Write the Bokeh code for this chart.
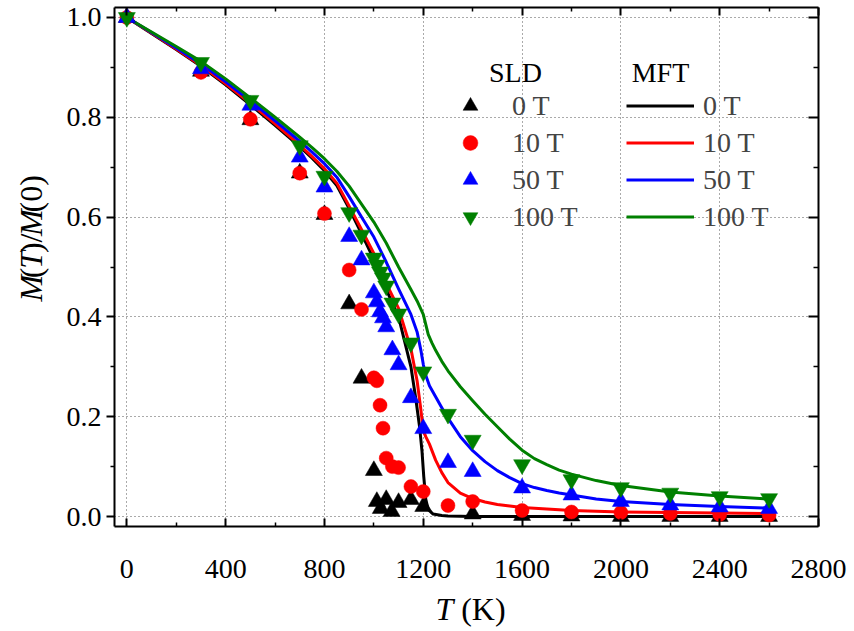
from bokeh.plotting import figure
from bokeh.layouts import row, column
from bokeh.models import (Range1d, FixedTicker, LinearAxis, Legend, LegendItem,
                          Label, PrintfTickFormatter, CustomJSTickFormatter)
from bokeh.embed import file_html
from bokeh.resources import INLINE
from math import pi

# ---- spin-lattice dynamics (SLD): temperature (K) and M(T)/M(0) ----
sld_t_0T = [0, 300, 500, 700, 800, 900, 950, 1000, 1012, 1028, 1050, 1072, 1100, 1150, 1200,
            1400, 1600, 1800, 2000, 2200, 2400, 2600]
sld_m_0T = [1.0, 0.892, 0.795, 0.688, 0.605, 0.426, 0.277, 0.092, 0.030, 0.016, 0.034, 0.010,
            0.028, 0.034, 0.020, 0.005, 0.002, 0.001, 0.0, 0.0, 0.0, 0.0]

sld_t_10T = [0, 300, 500, 700, 800, 900, 950, 1000, 1012, 1025, 1037, 1050, 1075, 1100, 1150,
             1200, 1300, 1400, 1600, 1800, 2000, 2200, 2400, 2600]
sld_m_10T = [1.0, 0.890, 0.796, 0.688, 0.607, 0.494, 0.415, 0.278, 0.272, 0.223, 0.177, 0.117,
             0.100, 0.098, 0.060, 0.050, 0.022, 0.030, 0.012, 0.009, 0.008, 0.006, 0.004, 0.003]

sld_t_50T = [0, 300, 500, 700, 800, 900, 950, 1000, 1012, 1025, 1037, 1050, 1075, 1100, 1150,
             1200, 1300, 1400, 1600, 1800, 2000, 2200, 2400, 2600]
sld_m_50T = [1.0, 0.897, 0.824, 0.720, 0.660, 0.561, 0.514, 0.448, 0.430, 0.410, 0.398, 0.380,
             0.334, 0.304, 0.238, 0.176, 0.108, 0.090, 0.057, 0.043, 0.030, 0.023, 0.019, 0.016]

sld_t_100T = [0, 300, 500, 700, 800, 900, 950, 1000, 1012, 1025, 1037, 1050, 1075, 1100, 1150,
              1200, 1300, 1400, 1600, 1800, 2000, 2200, 2400, 2600]
sld_m_100T = [1.0, 0.910, 0.834, 0.743, 0.682, 0.609, 0.564, 0.518, 0.504, 0.490, 0.478, 0.462,
              0.428, 0.406, 0.348, 0.290, 0.205, 0.153, 0.104, 0.074, 0.058, 0.047, 0.040, 0.036]

# ---- mean-field theory (MFT) curves ----
mft_t_0T = [0, 100, 200, 300, 400, 500, 600, 700, 750, 800, 850, 900, 950, 1000, 1050, 1100,
            1125, 1150, 1170, 1185, 1195, 1202, 1210, 1220, 1240, 1275, 1300, 1400, 1600, 2000,
            2600]
mft_m_0T = [1.0, 0.968, 0.936, 0.902, 0.865, 0.825, 0.784, 0.741, 0.718, 0.693, 0.663, 0.617,
            0.567, 0.515, 0.455, 0.400, 0.350, 0.300, 0.235, 0.180, 0.130, 0.080, 0.035, 0.014,
            0.005, 0.002, 0.001, 0.0, 0.0, 0.0, 0.0]

mft_t_10T = [0, 100, 200, 300, 400, 500, 600, 700, 750, 800, 850, 900, 950, 1000, 1050, 1100,
             1150, 1175, 1190, 1200, 1210, 1225, 1250, 1275, 1300, 1350, 1400, 1450, 1500, 1550,
             1600, 1800, 2000, 2200, 2400, 2600]
mft_m_10T = [1.0, 0.969, 0.937, 0.904, 0.867, 0.828, 0.787, 0.744, 0.721, 0.697, 0.668, 0.622,
             0.575, 0.527, 0.467, 0.417, 0.336, 0.272, 0.215, 0.172, 0.160, 0.145, 0.113, 0.088,
             0.068, 0.047, 0.036, 0.029, 0.024, 0.021, 0.018, 0.012, 0.009, 0.008, 0.007, 0.006]

mft_t_50T = [0, 100, 200, 300, 400, 500, 600, 700, 750, 800, 850, 900, 950, 1000, 1050, 1100,
             1150, 1175, 1190, 1200, 1210, 1225, 1250, 1275, 1300, 1350, 1400, 1450, 1500, 1550,
             1600, 1650, 1700, 1750, 1800, 1900, 2000, 2200, 2400, 2600]
mft_m_50T = [1.0, 0.970, 0.939, 0.907, 0.871, 0.833, 0.793, 0.752, 0.730, 0.707, 0.680, 0.641,
             0.600, 0.560, 0.510, 0.456, 0.405, 0.370, 0.334, 0.305, 0.283, 0.262, 0.240, 0.218,
             0.197, 0.160, 0.132, 0.110, 0.092, 0.078, 0.066, 0.058, 0.052, 0.047, 0.043, 0.035,
             0.030, 0.024, 0.020, 0.017]

mft_t_100T = [0, 100, 200, 300, 400, 500, 600, 700, 750, 800, 850, 900, 950, 1000, 1050, 1100,
              1150, 1175, 1200, 1210, 1220, 1235, 1250, 1275, 1300, 1350, 1400, 1450, 1500, 1550,
              1600, 1650, 1700, 1750, 1800, 1900, 2000, 2200, 2400, 2600]
mft_m_100T = [1.0, 0.971, 0.942, 0.912, 0.877, 0.839, 0.800, 0.760, 0.739, 0.717, 0.692, 0.662,
              0.626, 0.590, 0.548, 0.500, 0.455, 0.432, 0.405, 0.385, 0.365, 0.348, 0.333, 0.311,
              0.292, 0.260, 0.232, 0.205, 0.180, 0.155, 0.133, 0.116, 0.104, 0.093, 0.085, 0.072,
              0.062, 0.049, 0.041, 0.035]

field_labels = ["0 T", "10 T", "50 T", "100 T"]
colors = ["#000000", "#ff0000", "#0000ff", "#008000"]

x_ticks = [0, 400, 800, 1200, 1600, 2000, 2400, 2800]
x_minor = [200, 600, 1000, 1400, 1800, 2200, 2600]
y_ticks = [0.0, 0.2, 0.4, 0.6, 0.8, 1.0]
y_minor = [0.1, 0.3, 0.5, 0.7, 0.9]

SERIF = "Liberation Serif"
X0, X1 = -50, 2800
Y0, Y1 = -0.02, 1.02

# page geometry (pixels): left strip for the y title, bottom strip for the x title
PAGE_W, PAGE_H = 854, 631
YLAB_W, XLAB_H = 50, 41
F_LEFT, F_TOP, F_W, F_H = 114, 7, 704, 519
MAIN_W, MAIN_H = PAGE_W - YLAB_W, PAGE_H - XLAB_H

p = figure(width=MAIN_W, height=MAIN_H, output_backend="svg", toolbar_location=None,
           x_range=Range1d(X0, X1), y_range=Range1d(Y0, Y1),
           min_border_left=F_LEFT - YLAB_W, min_border_right=PAGE_W - F_LEFT - F_W,
           min_border_top=F_TOP, min_border_bottom=MAIN_H - F_TOP - F_H)
p.outline_line_color = None
p.background_fill_color = "white"
p.border_fill_color = "white"

xt = FixedTicker(ticks=x_ticks, minor_ticks=x_minor)
yt = FixedTicker(ticks=y_ticks, minor_ticks=y_minor)


def style_axis(ax, tick_in, tick_out, minor_in, minor_out):
    ax.axis_line_width = 2
    ax.axis_line_color = "black"
    ax.major_tick_line_width = 2
    ax.minor_tick_line_width = 1.5
    ax.major_tick_line_color = "black"
    ax.minor_tick_line_color = "black"
    ax.major_tick_in = tick_in
    ax.major_tick_out = tick_out
    ax.minor_tick_in = minor_in
    ax.minor_tick_out = minor_out
    ax.major_label_text_font = SERIF
    ax.major_label_text_font_size = "28px"
    ax.major_label_text_color = "black"


xb = p.xaxis[0]
xb.ticker = xt
style_axis(xb, 8, 0, 4, 0)
xb.major_label_standoff = 33

yl = p.yaxis[0]
yl.ticker = yt
yl.formatter = PrintfTickFormatter(format="%.1f")
style_axis(yl, 0, 8, 0, 4)
yl.major_label_standoff = 5

blank = CustomJSTickFormatter(code="return ''")
xtop = LinearAxis(ticker=xt, formatter=blank)
style_axis(xtop, 8, 0, 4, 0)
xtop.major_label_text_font_size = "0px"
xtop.major_label_standoff = 0
p.add_layout(xtop, "above")

yright = LinearAxis(ticker=yt, formatter=blank)
style_axis(yright, 10, 0, 5, 0)
yright.major_label_text_font_size = "0px"
yright.major_label_standoff = 0
p.add_layout(yright, "right")

for g in (p.xgrid[0], p.ygrid[0]):
    g.grid_line_color = "#555555"
    g.grid_line_dash = "1 3"
    g.grid_line_width = 1
p.xgrid[0].ticker = xt
p.ygrid[0].ticker = yt

# MFT curves
mft = [(mft_t_0T, mft_m_0T), (mft_t_10T, mft_m_10T), (mft_t_50T, mft_m_50T), (mft_t_100T, mft_m_100T)]
line_renderers = []
for (t, m), c in zip(mft, colors):
    line_renderers.append(p.line(t, m, line_color=c, line_width=3, line_join="round"))

# SLD points
sld = [(sld_t_0T, sld_m_0T), (sld_t_10T, sld_m_10T), (sld_t_50T, sld_m_50T), (sld_t_100T, sld_m_100T)]
markers = ["triangle", "circle", "triangle", "inverted_triangle"]
sizes = [17, 14, 17, 17]
point_renderers = []
for (t, m), c, mk, s in zip(sld, colors, markers, sizes):
    point_renderers.append(p.scatter(t, m, marker=mk, size=s, fill_color=c, line_color=c, line_width=0.5))

# legends: SLD markers column and MFT lines column
leg_sld = Legend(items=[LegendItem(label=lab, renderers=[r]) for lab, r in zip(field_labels, point_renderers)],
                 location=(335, 291), glyph_width=42, glyph_height=37, spacing=0, padding=0, margin=0,
                 label_standoff=21, label_text_font=SERIF, label_text_font_size="28px",
                 border_line_color=None, background_fill_alpha=0)
leg_mft = Legend(items=[LegendItem(label=lab, renderers=[r]) for lab, r in zip(field_labels, line_renderers)],
                 location=(512, 291), glyph_width=68, glyph_height=37, spacing=0, padding=0, margin=0,
                 label_standoff=9, label_text_font=SERIF, label_text_font_size="28px",
                 border_line_color=None, background_fill_alpha=0)
p.add_layout(leg_sld)
p.add_layout(leg_mft)


def dx(px):
    return X0 + (px - F_LEFT) / F_W * (X1 - X0)


def dy(py):
    return Y1 - (py - F_TOP) / F_H * (Y1 - Y0)


def text(fig, x, y, s, size, style="normal", align="center", angle=0.0):
    fig.add_layout(Label(x=x, y=y, text=s, text_font=SERIF, text_font_size=f"{size}px",
                         text_font_style=style, text_align=align, text_baseline="middle",
                         angle=angle, text_color="black"))


text(p, dx(515), dy(72), "SLD", 28)
text(p, dx(660), dy(72), "MFT", 28)


def strip(w, h):
    f = figure(width=w, height=h, x_range=Range1d(0, w), y_range=Range1d(0, h),
               x_axis_type=None, y_axis_type=None, toolbar_location=None,
               output_backend="svg", min_border=0)
    f.outline_line_color = None
    f.background_fill_color = "white"
    f.border_fill_color = "white"
    return f


# axis titles built from italic and upright pieces; offsets are Times advance widths (em)
AX = 32
ylab = strip(YLAB_W, MAIN_H)
y_parts = [("M", "italic", 0.833), ("(", "normal", 0.333), ("T", "italic", 0.556),
           (")/", "normal", 0.611), ("M", "italic", 0.833), ("(0)", "normal", 1.166)]
total = sum(w for _, _, w in y_parts) * AX
cy = (MAIN_H - 265) - total / 2
for s, st, w in y_parts:
    text(ylab, 30, cy, s, AX, st, align="left", angle=pi / 2)
    cy += w * AX

xlab = strip(PAGE_W, XLAB_H)
x_parts = [("T", "italic", 0.806), ("(K)", "normal", 1.388)]
total = sum(w for _, _, w in x_parts) * AX
cx = 470 - total / 2
for s, st, w in x_parts:
    text(xlab, cx, 23, s, AX, st, align="left")
    cx += w * AX

layout = column(row(ylab, p, spacing=0), xlab, spacing=0)
open("out.html", "w").write(file_html(layout, INLINE))
